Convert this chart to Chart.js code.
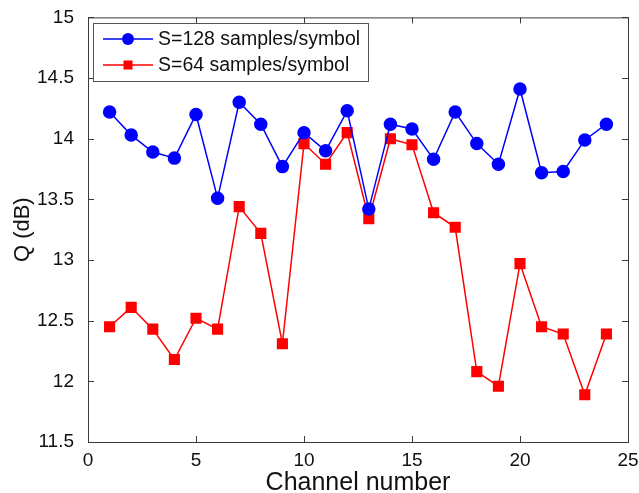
<!DOCTYPE html>
<html>
<head>
<meta charset="utf-8">
<script src="https://cdn.jsdelivr.net/npm/chart.js@4"></script>
<style>
html,body{margin:0;padding:0;background:#fff;}
#wrap{width:639px;height:493px;position:relative;}
</style>
</head>
<body>
<div id="wrap"><canvas id="c" width="639" height="493"></canvas></div>
<script>
const channels = [1,2,3,4,5,6,7,8,9,10,11,12,13,14,15,16,17,18,19,20,21,22,23,24];
const q128 = [14.22,14.03,13.89,13.84,14.20,13.51,14.30,14.12,13.77,14.05,13.90,14.23,13.42,14.12,14.08,13.83,14.22,13.96,13.79,14.41,13.72,13.73,13.99,14.12];
const q64 = [12.45,12.61,12.43,12.18,12.52,12.43,13.44,13.22,12.31,13.96,13.79,14.05,13.34,14.00,13.95,13.39,13.27,12.08,11.96,12.97,12.45,12.39,11.89,12.39];
const seriesLabels = ['S=128 samples/symbol','S=64 samples/symbol'];
const xTicks = [0,5,10,15,20,25];
const yTicks = [11.5,12,12.5,13,13.5,14,14.5,15];

const FONT = "'Liberation Sans', Arial, Helvetica, sans-serif";
const AX = '#3a3a3a';

const framePlugin = {
  id:'frame',
  afterDraw(chart){
    const {ctx, chartArea:a, scales} = chart;
    const xs = scales.x, ys = scales.y;
    ctx.save();
    ctx.strokeStyle = AX;
    ctx.lineWidth = 1;
    ctx.strokeRect(a.left+0.5, a.top+0.5, a.right-a.left, a.bottom-a.top);
    const L = 6;
    ctx.beginPath();
    xTicks.forEach(v=>{
      const p = Math.round(xs.getPixelForValue(v))+0.5;
      ctx.moveTo(p,a.bottom); ctx.lineTo(p,a.bottom-L);
      ctx.moveTo(p,a.top); ctx.lineTo(p,a.top+L);
    });
    yTicks.forEach(v=>{
      const p = Math.round(ys.getPixelForValue(v))+0.5;
      ctx.moveTo(a.left,p); ctx.lineTo(a.left+L,p);
      ctx.moveTo(a.right,p); ctx.lineTo(a.right-L,p);
    });
    ctx.stroke();
    // legend box
    const bx=93.5, by=23.5, bw=275, bh=58;
    ctx.fillStyle='#fff';
    ctx.fillRect(bx,by,bw,bh);
    ctx.strokeStyle='#555';
    ctx.strokeRect(bx,by,bw,bh);
    const rows=[39,65];
    chart.data.datasets.forEach((ds,i)=>{
      const y=rows[i];
      ctx.strokeStyle=ds.borderColor; ctx.lineWidth=1.5;
      ctx.beginPath(); ctx.moveTo(103,y); ctx.lineTo(153,y); ctx.stroke();
      ctx.fillStyle=ds.backgroundColor;
      if(ds.pointStyle==='circle'){
        ctx.beginPath(); ctx.arc(128,y,6,0,Math.PI*2); ctx.fill();
      } else {
        ctx.fillRect(128-4.5,y-4.5,9,9);
      }
      ctx.fillStyle='#111';
      ctx.font='19.5px '+FONT;
      ctx.textBaseline='middle';
      ctx.textAlign='left';
      ctx.fillText(ds.label,158,y+1);
    });
    ctx.restore();
  }
};

new Chart(document.getElementById('c'),{
  type:'line',
  data:{
    datasets:[
      {label:seriesLabels[0], data:channels.map((c,i)=>({x:c,y:q128[i]})), borderColor:'#0000ff', backgroundColor:'#0000ff', borderWidth:1.5, pointStyle:'circle', pointRadius:6, pointHoverRadius:6, tension:0},
      {label:seriesLabels[1], data:channels.map((c,i)=>({x:c,y:q64[i]})), borderColor:'#ff0000', backgroundColor:'#ff0000', borderWidth:1.5, pointStyle:'rect', pointRadius:6.8, pointHoverRadius:6.8, tension:0}
    ]
  },
  options:{
    responsive:false, animation:false, devicePixelRatio:1,
    layout:{padding:{top:17,right:11,left:0,bottom:0}},
    plugins:{legend:{display:false}, tooltip:{enabled:false}},
    scales:{
      x:{type:'linear',min:0,max:25,
        afterBuildTicks(s){s.ticks=xTicks.map(v=>({value:v}));},
        afterFit(s){s.height=51;},
        grid:{display:false}, border:{display:false},
        ticks:{color:'#111',font:{family:FONT,size:19},padding:-1,maxRotation:0,callback:v=>String(v)},
        title:{display:true,text:'Channel number',color:'#111',font:{family:FONT,size:25},padding:{top:0,bottom:-5}}
      },
      y:{type:'linear',min:11.5,max:15,
        afterBuildTicks(s){s.ticks=yTicks.map(v=>({value:v}));},
        afterFit(s){s.width=88;},
        grid:{display:false}, border:{display:false},
        ticks:{color:'#111',font:{family:FONT,size:19},padding:6,callback:v=>String(v)},
        title:{display:true,text:'Q (dB)',color:'#111',font:{family:FONT,size:22},padding:{top:10,bottom:0}}
      }
    }
  },
  plugins:[framePlugin]
});
</script>
</body>
</html>
